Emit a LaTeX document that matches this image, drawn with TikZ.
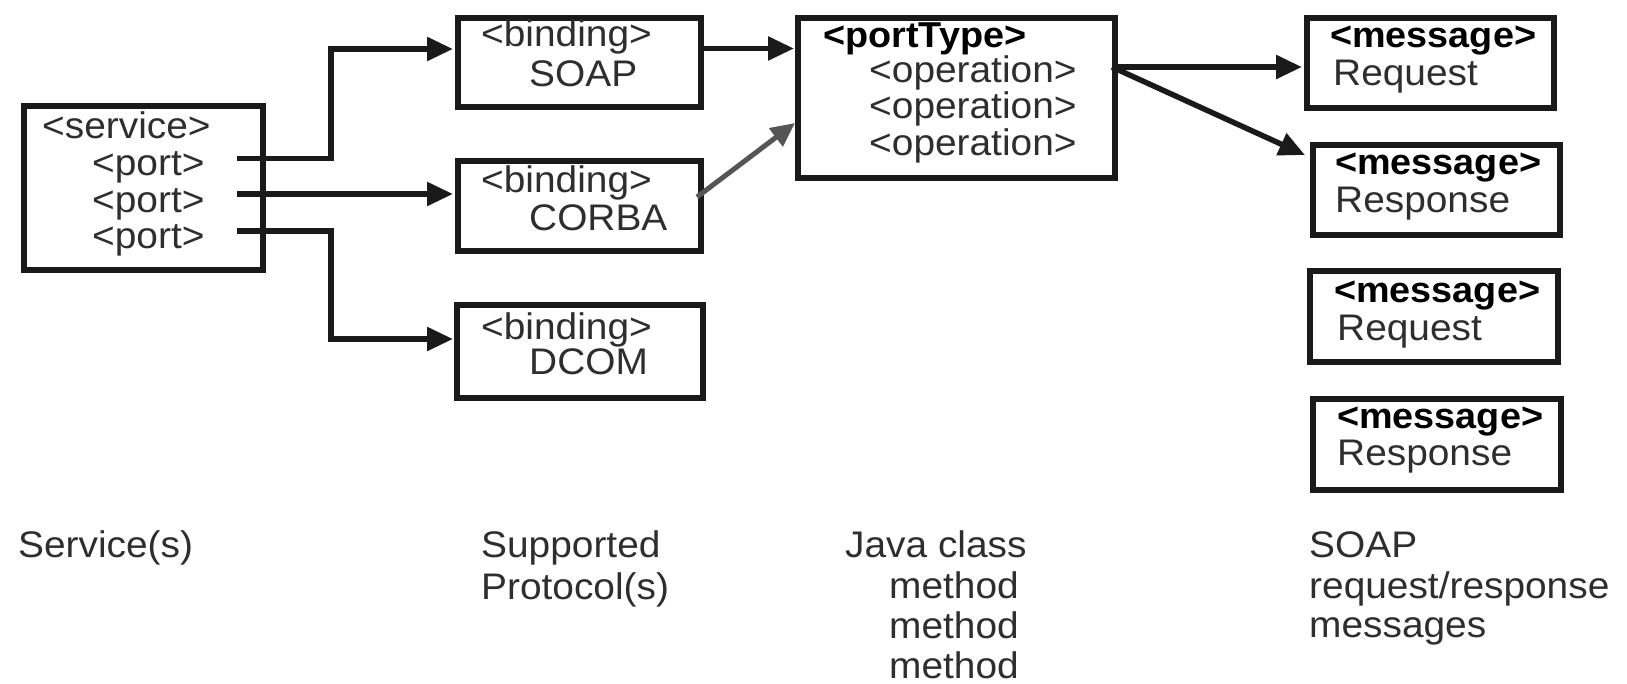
\documentclass[tikz,border=0pt]{standalone}
\usepackage{fontspec}
\setmainfont{Liberation Sans}[FakeStretch=1.05]
\usetikzlibrary{arrows.meta}
\definecolor{ink}{HTML}{1A1A1A}
\definecolor{txtgray}{HTML}{2E2E2E}
\definecolor{arrowgray}{HTML}{555555}
\begin{document}
\begin{tikzpicture}[x=1pt,y=-1pt,
  box/.style={draw=ink, line width=6pt, inner sep=0pt, anchor=north west},
  txt/.style={anchor=base west, inner sep=0pt, font=\fontsize{37}{44}\selectfont, text=txtgray},
  btxt/.style={anchor=base west, inner sep=0pt, font=\fontsize{36}{44}\selectfont\bfseries, text=black},
  conn/.style={line width=5.5pt, draw=ink, -{Triangle[length=26pt,width=23pt]}},
  gconn/.style={line width=5pt, draw=arrowgray, -{Triangle[length=24pt,width=22pt]}},
]
\useasboundingbox (0,0) rectangle (1627,683);
% boxes
\node[box, minimum width=239pt, minimum height=164pt] (service) at (21,103) {};
\node[box, minimum width=243pt, minimum height=89pt] (soap) at (455,15) {};
\node[box, minimum width=243pt, minimum height=90pt] (corba) at (455,158) {};
\node[box, minimum width=246pt, minimum height=93pt] (dcom) at (454,302) {};
\node[box, minimum width=317pt, minimum height=160pt] (porttype) at (795,15) {};
\node[box, minimum width=247pt, minimum height=90pt] (msga) at (1304,15) {};
\node[box, minimum width=247pt, minimum height=90pt] (msgb) at (1310,142) {};
\node[box, minimum width=248pt, minimum height=91pt] (msgc) at (1307,268) {};
\node[box, minimum width=248pt, minimum height=91pt] (msgd) at (1310,396) {};
% texts in boxes
\node[txt] (tservice) at (42,138) {<service>};
\node[txt] (tport1) at (92,175) {<port>};
\node[txt] (tport2) at (92,212) {<port>};
\node[txt] (tport3) at (92,248) {<port>};
\node[txt] (tbind1) at (481,46) {<binding>};
\node[txt] (tsoap) at (529,86) {SOAP};
\node[txt] (tbind2) at (481,192) {<binding>};
\node[txt] (tcorba) at (529,230) {CORBA};
\node[txt] (tbind3) at (481,339) {<binding>};
\node[txt] (tdcom) at (529,374) {DCOM};
\node[btxt] (tpt) at (823,47) {<portType>};
\node[txt] (top1) at (869,82) {<operation>};
\node[txt] (top2) at (869,118) {<operation>};
\node[txt] (top3) at (869,155) {<operation>};
\node[btxt] (tm1) at (1330,47) {<message>};
\node[txt] (tm1b) at (1333,85) {Request};
\node[btxt] (tm2) at (1335,174) {<message>};
\node[txt] (tm2b) at (1335,212) {Response};
\node[btxt] (tm3) at (1334,302) {<message>};
\node[txt] (tm3b) at (1337,340) {Request};
\node[btxt] (tm4) at (1337,428) {<message>};
\node[txt] (tm4b) at (1337,465) {Response};
% bottom labels
\node[txt] (lserv) at (18,557) {Service(s)};
\node[txt] (lsup1) at (481,557) {Supported};
\node[txt] (lsup2) at (481,599) {Protocol(s)};
\node[txt] (ljava) at (845,557) {Java class};
\node[txt] (lm1) at (889,598) {method};
\node[txt] (lm2) at (889,638) {method};
\node[txt] (lm3) at (889,678) {method};
\node[txt] (lsoap) at (1309,557) {SOAP};
\node[txt] (lrr) at (1309,598) {request/response};
\node[txt] (lmsgs) at (1309,637) {messages};
% connector coordinates
\coordinate (p1) at (237,158.5);
\coordinate (p2) at (237,194);
\coordinate (p3) at (237,231);
\coordinate (insoap) at (453,49);
\coordinate (incorba) at (453,194);
\coordinate (indcom) at (453,339);
\coordinate (outsoap) at (698,48.5);
\coordinate (ptin1) at (794,48.5);
\coordinate (outcorba) at (697,197);
\coordinate (ptin2) at (795,123);
\coordinate (ptout) at (1112,67);
\coordinate (inma) at (1302,67);
\coordinate (inmb) at (1305,155);
% connectors
\draw[conn] (p1) -- ++(94,0) |- (insoap);
\draw[conn] (p2) -- (incorba);
\draw[conn] (p3) -- ++(94,0) |- (indcom);
\draw[conn] (outsoap) -- (ptin1);
\draw[gconn] (outcorba) -- (ptin2);
\draw[conn] (ptout) -- (inma);
\draw[conn] (ptout) -- (inmb);
\end{tikzpicture}
\end{document}
